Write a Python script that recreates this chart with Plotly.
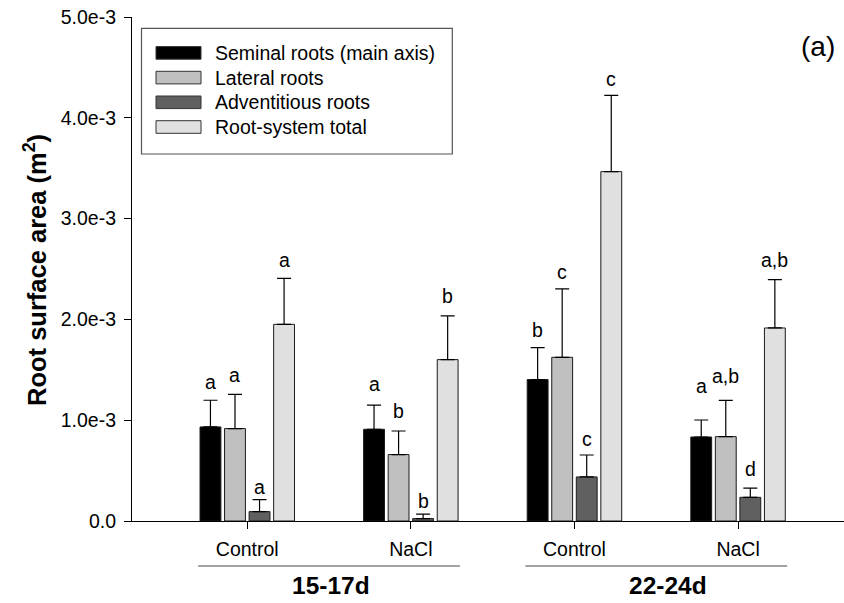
import plotly.graph_objects as go

# ---- data -------------------------------------------------------------
treatments = ["Control", "NaCl", "Control", "NaCl"]
periods = ["15-17d", "22-24d"]
y_tick_values = [0.0, 1.0e-3, 2.0e-3, 3.0e-3, 4.0e-3, 5.0e-3]
y_tick_labels = ["0.0", "1.0e-3", "2.0e-3", "3.0e-3", "4.0e-3", "5.0e-3"]

series_names = ["Seminal roots (main axis)", "Lateral roots",
                "Adventitious roots", "Root-system total"]

seminal = [9.33e-4, 9.10e-4, 1.403e-3, 8.33e-4]
seminal_se = [2.65e-4, 2.40e-4, 3.17e-4, 1.69e-4]
seminal_sig = ["a", "a", "b", "a"]

lateral = [9.17e-4, 6.59e-4, 1.624e-3, 8.37e-4]
lateral_se = [3.40e-4, 2.34e-4, 6.78e-4, 3.60e-4]
lateral_sig = ["a", "b", "c", "a,b"]

adventitious = [9.3e-5, 2.4e-5, 4.37e-4, 2.35e-4]
adventitious_se = [1.20e-4, 4.5e-5, 2.18e-4, 9.2e-5]
adventitious_sig = ["a", "b", "c", "d"]

total = [1.951e-3, 1.601e-3, 3.466e-3, 1.915e-3]
total_se = [4.56e-4, 4.33e-4, 7.57e-4, 4.80e-4]
total_sig = ["a", "b", "c", "a,b"]

# ---- styling ----------------------------------------------------------
FONT = "Arial, 'Liberation Sans', sans-serif"
fills = ["#000000", "#c0c0c0", "#606060", "#e0e0e0"]
W, H = 844, 603
ML, MR, MT, MB = 132, 0, 17, 82
BARGAP, BARGROUPGAP = 0.40, 0.15
X_RANGE = [-0.7045, 3.6476]
# vertical pixel offset of each significance letter above its error cap
sig_shift = [
    [18, 21, 18, 34],
    [19, 20, 17, 24],
    [13, 13, 16, 19],
    [18, 20, 16, 20],
]

pw, ph = W - ML - MR, H - MT - MB


def px_x(p):
    return (p - ML) / pw


def px_y(p):
    return (H - MB - p) / ph


xs = list(range(len(treatments)))
values = [seminal, lateral, adventitious, total]
errors = [seminal_se, lateral_se, adventitious_se, total_se]
letters = [seminal_sig, lateral_sig, adventitious_sig, total_sig]

fig = go.Figure()
for k, name in enumerate(series_names):
    fig.add_trace(go.Bar(
        x=xs, y=values[k], name=name,
        marker=dict(color=fills[k], line=dict(color="#1a1a1a", width=1)),
        error_y=dict(type="data", symmetric=False, array=errors[k],
                     arrayminus=[0] * len(xs), color="black",
                     thickness=1.2, width=7),
        showlegend=False,
    ))

# significance letters above each error bar
slot = (1 - BARGAP) / len(series_names)
annotations = []
for k in range(len(series_names)):
    for i in xs:
        annotations.append(dict(
            x=i + (k - (len(series_names) - 1) / 2) * slot,
            y=values[k][i] + errors[k][i], xref="x", yref="y",
            text=letters[k][i], showarrow=False, yanchor="middle",
            yshift=sig_shift[k][i],
            font=dict(family=FONT, size=19.5, color="black"),
        ))

# period labels under the treatment ticks
shapes = []
half = (1 - BARGAP) / 2
for g, label in enumerate(periods):
    x0, x1 = 2 * g - half, 2 * g + 1 + half
    shapes.append(dict(type="line", xref="x", yref="paper",
                       x0=x0, x1=x1, y0=px_y(566), y1=px_y(566),
                       line=dict(color="#444444", width=1)))
    annotations.append(dict(
        x=[0.509, 2.571][g], y=px_y(585), xref="x", yref="paper",
        text="<b>%s</b>" % label, showarrow=False, yanchor="middle",
        font=dict(family=FONT, size=24.5, color="black"),
    ))

# hand-drawn legend with wide swatches
shapes.append(dict(type="rect", xref="paper", yref="paper",
                   x0=px_x(141.5), x1=px_x(452.3),
                   y0=px_y(154), y1=px_y(28.3),
                   line=dict(color="#555555", width=1.2),
                   fillcolor="white", layer="above"))
for k, name in enumerate(series_names):
    cy = 52.9 + 24.7 * k
    shapes.append(dict(type="rect", xref="paper", yref="paper",
                       x0=px_x(156), x1=px_x(201),
                       y0=px_y(cy + 6.3), y1=px_y(cy - 6.3),
                       line=dict(color="#333333", width=1),
                       fillcolor=fills[k], layer="above"))
    annotations.append(dict(
        x=px_x(213), y=px_y(cy), xref="paper", yref="paper",
        text=name, showarrow=False, xanchor="left", yanchor="middle",
        font=dict(family=FONT, size=19.5, color="black"),
    ))

# panel tag and y-axis title
annotations.append(dict(
    x=px_x(818), y=px_y(46.5), xref="paper", yref="paper", text="(a)",
    showarrow=False, xanchor="center", yanchor="middle",
    font=dict(family=FONT, size=28, color="black"),
))
annotations.append(dict(
    x=px_x(35), y=px_y(270), xref="paper", yref="paper",
    text="<b>Root surface area (m<sup>2</sup>)</b>", textangle=-90,
    showarrow=False, xanchor="center", yanchor="middle",
    font=dict(family=FONT, size=25.5, color="black"),
))

fig.update_layout(
    width=W, height=H, autosize=False,
    margin=dict(l=ML, r=MR, t=MT, b=MB, pad=0),
    paper_bgcolor="white", plot_bgcolor="white",
    barmode="group", bargap=BARGAP, bargroupgap=BARGROUPGAP,
    font=dict(family=FONT, size=19.5, color="black"),
    shapes=shapes, annotations=annotations,
    xaxis=dict(range=X_RANGE, tickvals=xs, ticktext=treatments,
               showline=True, linecolor="black", linewidth=1.2,
               ticks="outside", ticklen=7, tickcolor="black", tickwidth=1.2,
               ticklabelstandoff=3,
               showgrid=False, zeroline=False,
               tickfont=dict(family=FONT, size=19.5, color="black")),
    yaxis=dict(range=[0, 5.0e-3], tickvals=y_tick_values,
               ticktext=y_tick_labels,
               showline=True, linecolor="black", linewidth=1.2,
               ticks="outside", ticklen=7, tickcolor="black", tickwidth=1.2,
               ticklabelstandoff=4,
               showgrid=False, zeroline=False,
               tickfont=dict(family=FONT, size=19.5, color="black")),
)

fig.write_html("out.html")
